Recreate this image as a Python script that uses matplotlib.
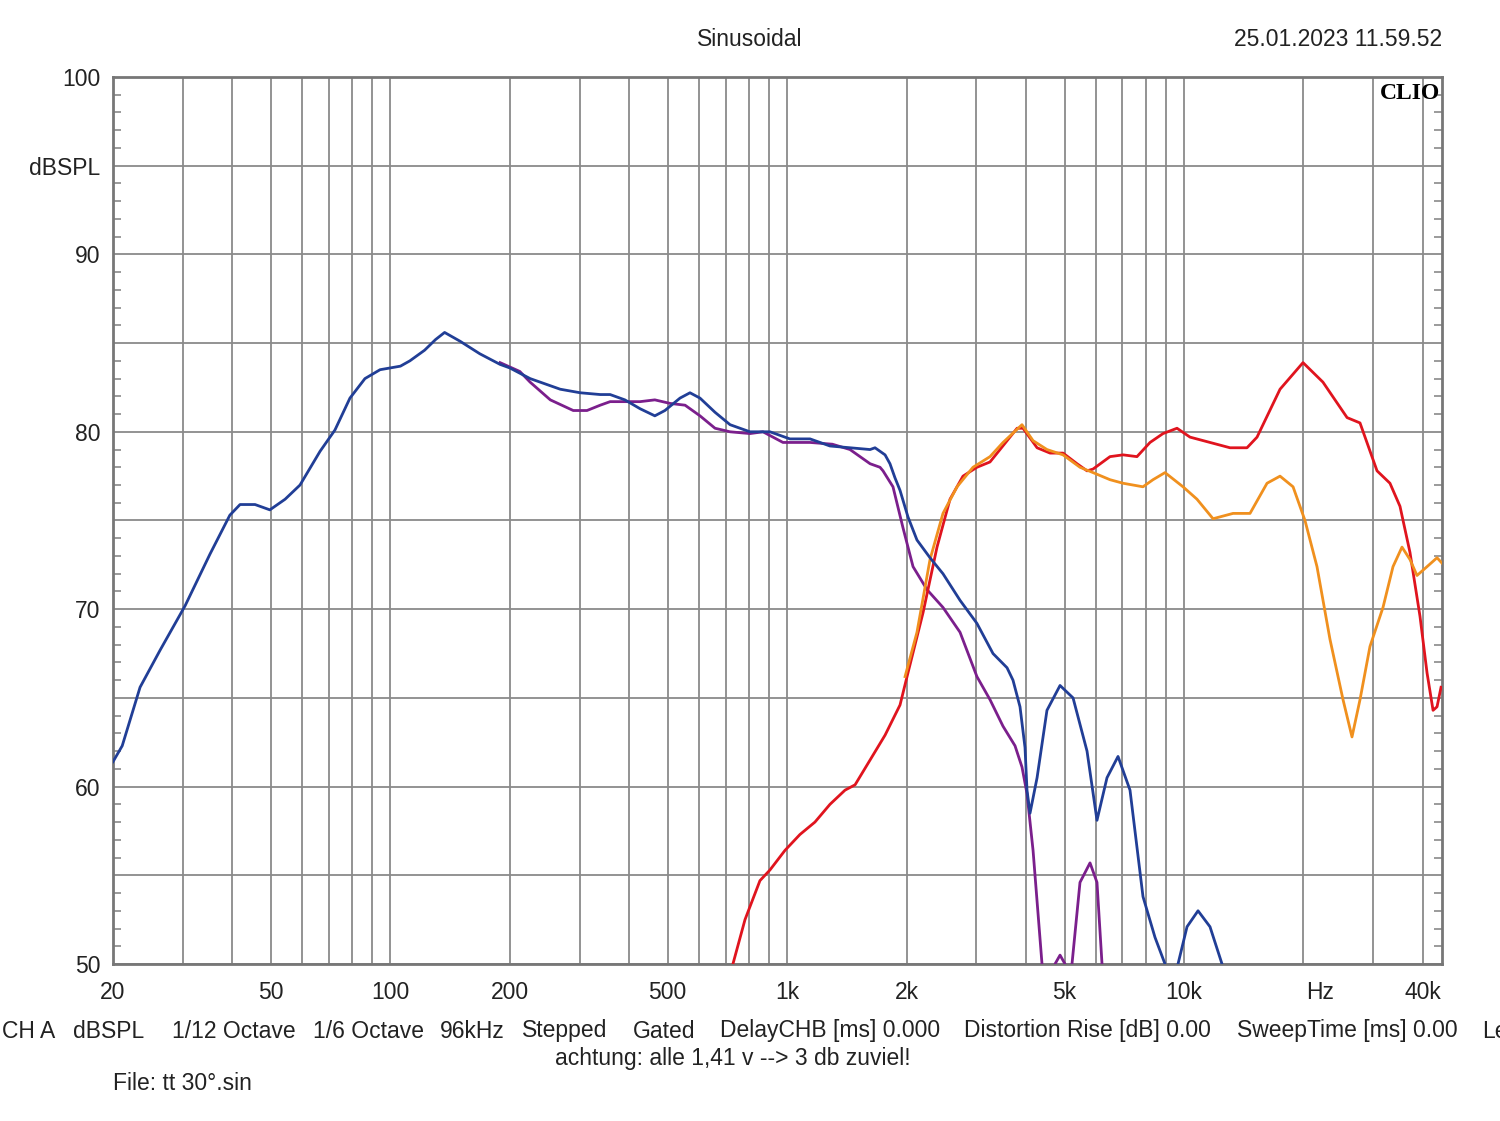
import matplotlib
matplotlib.use("Agg")
import matplotlib.pyplot as plt
import numpy as np

plt.rcParams['font.family'] = ['Liberation Sans', 'DejaVu Sans']

# blue trace
blue_f = [20, 21.1, 23.4, 26.3, 30.4, 35.1, 39.4, 41.8, 45.6, 49.7, 54.3, 59.2, 66.5, 72.5,
          79.1, 86.3, 94.2, 106, 112, 122, 130, 137, 150, 168, 189, 200, 225, 268, 301, 338,
          358, 390, 426, 464, 492, 537, 569, 603, 658, 718, 806, 905, 1016, 1142, 1282, 1440,
          1618, 1665, 1765, 1816, 1870, 1925, 2016, 2124, 2291, 2470, 2727, 3008, 3302, 3582,
          3708, 3862, 3976, 4022, 4093, 4264, 4516, 4872, 5254, 5698, 6037, 6398, 6821, 7312,
          7884, 8454, 8959, 9100, 9500, 9661, 10180, 10851, 11631, 12472, 12900]
blue_db = [61.4, 62.3, 65.6, 67.7, 70.2, 73.1, 75.3, 75.9, 75.9, 75.6, 76.2, 77.0, 78.9, 80.1,
           81.9, 83.0, 83.5, 83.7, 84.0, 84.6, 85.2, 85.6, 85.1, 84.4, 83.8, 83.6, 83.0, 82.4, 82.2, 82.1,
           82.1, 81.8, 81.3, 80.9, 81.2, 81.9, 82.2, 81.9, 81.1, 80.4, 80.0, 80.0, 79.6, 79.6, 79.2, 79.1,
           79.0, 79.1, 78.7, 78.2, 77.4, 76.7, 75.2, 73.9, 72.9, 72.0, 70.5, 69.2, 67.5, 66.7,
           66.0, 64.5, 62.2, 59.8, 58.5, 60.5, 64.3, 65.7, 65.0, 62.0, 58.1, 60.5, 61.7, 59.8,
           53.8, 51.5, 50.0, 48.0, 48.0, 50.0, 52.1, 53.0, 52.1, 50.0, 47.0]

# purple trace
purple_f = [189, 212, 225, 253, 289, 313, 338, 358, 390, 426, 464, 507, 553, 603, 658, 718, 806,
            869, 976, 1142, 1300, 1440, 1618, 1714, 1744, 1848, 1958, 2076, 2252, 2470, 2727,
            3008, 3245, 3500, 3752, 3907, 4022, 4166, 4388, 4480,
            4650, 4732, 4872, 5015, 5100,
            5150, 5222, 5470, 5798, 6037, 6216, 6300]
purple_db = [83.9, 83.4, 82.8, 81.8, 81.2, 81.2, 81.5, 81.7, 81.7, 81.7, 81.8, 81.6, 81.5, 80.9, 80.2, 80.0, 79.9,
             80.0, 79.4, 79.4, 79.3, 79.0, 78.2, 78.0, 77.8, 76.9, 74.6, 72.4, 71.1, 70.1, 68.7,
             66.2, 64.9, 63.4, 62.3, 61.1, 59.6, 56.4, 50.0, 46.0,
             45.0, 50.0, 50.5, 50.0, 45.0,
             45.0, 50.0, 54.6, 55.7, 54.6, 50.0, 46.0]

# red trace
red_f = [700, 730, 783, 854, 905, 987, 1077, 1175, 1282, 1399, 1483, 1618, 1765, 1925, 2005,
         2200, 2386, 2573, 2774, 3008, 3245, 3439, 3797, 3930, 4264, 4597, 4958, 5377, 5698,
         5900, 6511, 7022, 7614, 8213, 8856, 9604, 10358, 11631, 13062, 14418, 15282, 17463,
         19954, 22400, 25770, 27775, 30660, 33050, 35030, 37120, 39340, 40990, 42440, 43430, 44450]
red_db = [47.5, 50.0, 52.5, 54.7, 55.3, 56.4, 57.3, 58.0, 59.0, 59.8, 60.1, 61.5, 62.9, 64.6, 66.2,
          69.8, 73.5, 76.2, 77.5, 78.0, 78.3, 79.0, 80.2, 80.2, 79.1, 78.8, 78.8, 78.2, 77.8,
          77.9, 78.6, 78.7, 78.6, 79.4, 79.9, 80.2, 79.7, 79.4, 79.1, 79.1, 79.7, 82.4,
          83.9, 82.8, 80.8, 80.5, 77.8, 77.1, 75.8, 73.2, 69.6, 66.4, 64.3, 64.5, 65.6]

# orange trace
orange_f = [1982, 2124, 2291, 2470, 2680, 2940, 3245, 3500, 3907, 4166, 4516, 4958, 5470, 5900,
            6511, 7022, 7884, 8356, 8959, 9946, 10786, 11838, 13294, 14671, 16194, 17463, 18834,
            20185, 21640, 23335, 25170, 26515, 27775, 29430, 31740, 33640, 35440, 37120, 38660,
            40990, 43430, 44680]
orange_db = [66.2, 68.7, 72.8, 75.4, 76.9, 78.0, 78.6, 79.4, 80.4, 79.5, 79.0, 78.7, 78.0, 77.7,
             77.3, 77.1, 76.9, 77.3, 77.7, 76.9, 76.2, 75.1, 75.4, 75.4, 77.1, 77.5, 76.9,
             75.0, 72.4, 68.3, 64.9, 62.8, 64.9, 67.9, 70.1, 72.4, 73.5, 72.8, 71.9,
             72.4, 72.9, 72.6]

grid_f = [20, 30, 40, 50, 60, 70, 80, 90, 100, 200, 300, 400, 500, 600, 700, 800, 900,
          1000, 2000, 3000, 4000, 5000, 6000, 7000, 8000, 9000, 10000, 20000, 30000, 40000]
label_f = [20, 50, 100, 200, 500, 1000, 2000, 5000, 10000, 22000, 40000]
label_txt = ['20', '50', '100', '200', '500', '1k', '2k', '5k', '10k', 'Hz', '40k']
y_ticks = [50, 55, 60, 65, 70, 75, 80, 85, 90, 95, 100]
y_txt = ['50', '', '60', '', '70', '', '80', '', '90', 'dBSPL', '100']

gray = '#8a8a8a'
fig = plt.figure(figsize=(15, 11.21), dpi=100)
ax = fig.add_axes([113 / 1500, 1 - 964 / 1121, (1442 - 113) / 1500, (964 - 77) / 1121])

ax.plot(purple_f, purple_db, color='#7b1f8c', lw=2.0, zorder=3)
ax.plot(blue_f, blue_db, color='#213e96', lw=2.0, zorder=4)
ax.plot(red_f, red_db, color='#e0141e', lw=2.0, zorder=3)
ax.plot(orange_f, orange_db, color='#f0901e', lw=2.0, zorder=3)

ax.set_xscale('log')
ax.set_xlim(20, 44700)
ax.set_ylim(50, 100)

ax.xaxis.remove_overlapping_locs = False
ax.set_xticks(grid_f)
ax.set_xticklabels([''] * len(grid_f))
ax.set_xticks(label_f, labels=label_txt, minor=True)
ax.set_yticks(y_ticks, labels=y_txt)
ax.set_yticks(np.arange(50, 101, 1), minor=True)

ax.tick_params(axis='x', which='both', length=0, labelsize=16.5, pad=12, colors='#222222')
ax.tick_params(axis='y', which='major', length=0, labelsize=16.5, pad=9, colors='#222222')
ax.tick_params(axis='y', which='minor', direction='in', length=6, width=1.2,
               color=gray, left=True, right=True)
ax.grid(True, which='major', color=gray, lw=1.3)
for s in ax.spines.values():
    s.set_color('#777777')
    s.set_linewidth(2)

ax.text(0.9985, 0.993, 'CLIO', transform=ax.transAxes, ha='right', va='top',
        fontsize=17, fontweight='bold', family=['Liberation Serif', 'DejaVu Serif'], zorder=6)

fig.text(750 / 1500, 1 - 39 / 1121, 'Sinusoidal', ha='center', va='center', fontsize=16.5, color='#222222')
fig.text(1442 / 1500, 1 - 39 / 1121, '25.01.2023 11.59.52', ha='right', va='center', fontsize=16.5,
         color='#222222')

bottom_x = [2, 73, 172, 313, 440, 522, 633, 720, 964, 1237, 1482]
bottom_txt = ['CH A', 'dBSPL', '1/12 Octave', '1/6 Octave', '96kHz', 'Stepped', 'Gated',
              'DelayCHB [ms] 0.000', 'Distortion Rise [dB] 0.00', 'SweepTime [ms] 0.00', 'Le']
for x, t in zip(bottom_x, bottom_txt):
    fig.text(x / 1500, 1 - 1031 / 1121, t, ha='left', va='center', fontsize=16.5, color='#222222')

fig.text(733 / 1500, 1 - 1058 / 1121, 'achtung: alle 1,41 v --> 3 db zuviel!', ha='center',
         va='center', fontsize=16.5, color='#222222')
fig.text(113 / 1500, 1 - 1084 / 1121, 'File: tt 30°.sin', ha='left', va='center', fontsize=16.5,
         color='#222222')

fig.savefig('out.png', dpi=100)
